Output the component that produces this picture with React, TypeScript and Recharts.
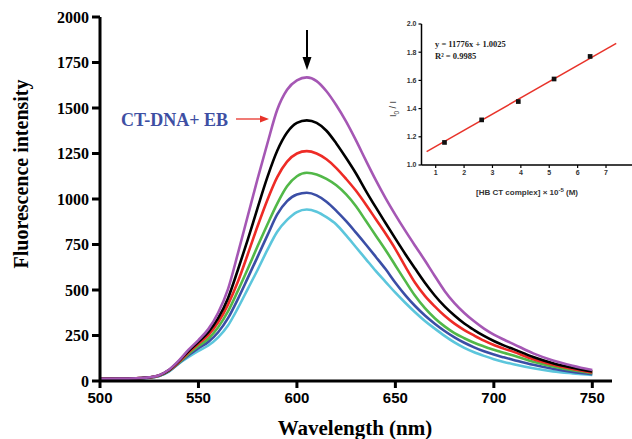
import {
  LineChart,
  ComposedChart,
  Line,
  Scatter,
  XAxis,
  YAxis,
  ZAxis,
} from 'recharts';

const wavelengths = [
  500, 510, 520, 525, 530, 535, 540, 545, 550, 555, 560, 565, 570, 575, 580, 585, 590, 595, 600,
  605, 610, 615, 620, 625, 630, 635, 640, 645, 650, 655, 660, 665, 670, 675, 680, 685, 690, 695,
  700, 705, 710, 720, 730, 740, 750,
];

// CT-DNA + EB (no complex)
const purple = [
  12, 13, 16, 20, 32, 62, 112, 172, 225, 285, 375, 505, 700, 905, 1110, 1305, 1490, 1600, 1652,
  1668, 1648, 1592, 1515, 1425, 1322, 1212, 1105, 1005, 913, 826, 743, 662, 577, 495, 428, 374, 328,
  288, 255, 228, 203, 152, 113, 84, 60,
];
const black = [
  12, 13, 16, 20, 31, 60, 108, 165, 215, 268, 345, 455, 610, 775, 950, 1120, 1265, 1365, 1418,
  1432, 1418, 1375, 1305, 1225, 1140, 1045, 955, 868, 782, 698, 618, 540, 470, 410, 360, 316, 280,
  248, 220, 196, 175, 132, 98, 73, 52,
];
const red = [
  12, 13, 16, 19, 30, 58, 104, 158, 205, 252, 322, 420, 545, 695, 850, 995, 1120, 1205, 1250,
  1263, 1250, 1218, 1170, 1110, 1045, 970, 890, 810, 725, 630, 540, 468, 410, 358, 315, 280, 250,
  222, 198, 178, 160, 120, 90, 66, 47,
];
const green = [
  11, 12, 15, 19, 29, 56, 100, 150, 192, 232, 295, 382, 495, 615, 740, 860, 975, 1070, 1125,
  1144, 1135, 1110, 1075, 1025, 960, 880, 800, 720, 635, 550, 468, 400, 345, 300, 263, 235, 210,
  190, 172, 155, 140, 106, 80, 59, 43,
];
const blue = [
  11, 12, 15, 18, 28, 54, 98, 142, 180, 215, 268, 345, 450, 565, 682, 800, 915, 988, 1025,
  1034, 1020, 985, 935, 878, 815, 750, 683, 615, 540, 472, 412, 360, 315, 275, 240, 210, 185,
  163, 145, 130, 116, 89, 67, 50, 38,
];
const cyan = [
  10, 11, 14, 18, 27, 52, 95, 132, 165, 195, 240, 305, 400, 505, 610, 720, 820, 885, 928,
  942, 930, 900, 860, 800, 735, 670, 605, 545, 485, 430, 378, 330, 288, 248, 212, 182, 158,
  138, 120, 105, 92, 70, 53, 42, 33,
];

const xTicks = [500, 550, 600, 650, 700, 750];
const yTicks = [0, 250, 500, 750, 1000, 1250, 1500, 1750, 2000];

// inset: Stern-Volmer plot
const complexConc = [1.31, 2.62, 3.91, 5.17, 6.44];
const ratioI0I = [1.16, 1.32, 1.45, 1.61, 1.77];
const fitX = [0.68, 7.36];
const fitY = [1.095, 1.862];
const insetXTicks = [1, 2, 3, 4, 5, 6, 7];
const insetYTicks = [1.0, 1.2, 1.4, 1.6, 1.8, 2.0];

const spectra = wavelengths.map((wl, i) => ({
  wl,
  purple: purple[i],
  black: black[i],
  red: red[i],
  green: green[i],
  blue: blue[i],
  cyan: cyan[i],
}));
const svPoints = complexConc.map((x, i) => ({ x, y: ratioI0I[i] }));
const svFit = fitX.map((x, i) => ({ x, y: fitY[i] }));

const SERIF = '"Liberation Serif", "Times New Roman", serif';
const SANS = '"Liberation Sans", Arial, sans-serif';

const series = [
  { key: 'cyan', color: '#5cc6dc' },
  { key: 'blue', color: '#3b4ea6' },
  { key: 'green', color: '#52b848' },
  { key: 'red', color: '#ee2b26' },
  { key: 'black', color: '#000000' },
  { key: 'purple', color: '#a557b4' },
];

export default function App() {
  return (
    <div
      style={{
        position: 'fixed',
        left: 0,
        top: 0,
        width: 632,
        height: 439,
        overflow: 'hidden',
        background: '#ffffff',
      }}
    >
      <LineChart width={632} height={439} data={spectra} margin={{ top: 17, right: 20, left: 0, bottom: 0 }}>
        <XAxis
          dataKey="wl"
          type="number"
          domain={[500, 760]}
          ticks={xTicks}
          height={58}
          axisLine={{ stroke: '#000', strokeWidth: 3 }}
          tickLine={{ stroke: '#000', strokeWidth: 3 }}
          tickSize={7}
          tickMargin={4}
          tick={{ fill: '#000', fontFamily: SANS, fontWeight: 700, fontSize: 15 }}
        />
        <YAxis
          type="number"
          domain={[0, 2000]}
          ticks={yTicks}
          width={100}
          axisLine={{ stroke: '#000', strokeWidth: 3 }}
          tickLine={{ stroke: '#000', strokeWidth: 3 }}
          tickSize={8}
          tickMargin={3}
          tick={{ fill: '#000', fontFamily: SERIF, fontWeight: 700, fontSize: 16 }}
        />
        {series.map((s) => (
          <Line
            key={s.key}
            type="monotone"
            dataKey={s.key}
            stroke={s.color}
            strokeWidth={2.6}
            dot={false}
            isAnimationActive={false}
          />
        ))}
      </LineChart>

      <svg
        width={632}
        height={439}
        style={{ position: 'absolute', left: 0, top: 0, pointerEvents: 'none' }}
      >
        <text
          transform="translate(28,174) rotate(-90)"
          textAnchor="middle"
          fontFamily={SERIF}
          fontWeight={700}
          fontSize={20}
          fill="#000"
        >
          Fluorescence intensity
        </text>
        <text x={355} y={435} textAnchor="middle" fontFamily={SERIF} fontWeight={700} fontSize={21} fill="#000">
          Wavelength (nm)
        </text>
        <text x={121} y={126} fontFamily={SERIF} fontWeight={700} fontSize={18} fill="#3e4fa3">
          CT-DNA+ EB
        </text>
        <line x1={236} y1={119} x2={262} y2={119} stroke="#e8332a" strokeWidth={1.3} />
        <polygon points="269,119 260,115.5 260,122.5" fill="#e8332a" />
        <line x1={307} y1={30} x2={307} y2={60} stroke="#000" strokeWidth={2} />
        <polygon points="307,70 302.5,57 311.5,57" fill="#000" />

        <text x={435} y={47} fontFamily={SERIF} fontWeight={700} fontSize={8.5} fill="#222">
          y = 11776x + 1.0025
        </text>
        <text x={435} y={59} fontFamily={SERIF} fontWeight={700} fontSize={8.5} fill="#222">
          R² = 0.9985
        </text>
        <text
          transform="translate(396,109) rotate(-90)"
          textAnchor="middle"
          fontFamily={SANS}
          fontSize={9}
          fill="#333"
        >
          I<tspan fontSize={6.5} dy={3}>0</tspan>
          <tspan dy={-3}> / I</tspan>
        </text>
        <text x={527} y={195} textAnchor="middle" fontFamily={SANS} fontWeight={700} fontSize={8} fill="#333">
          [HB CT complex] × 10<tspan fontSize={6} dy={-3}>-5</tspan>
          <tspan dy={3}> (M)</tspan>
        </text>
      </svg>

      <div style={{ position: 'absolute', left: 380, top: 0 }}>
        <ComposedChart width={260} height={200} margin={{ top: 24, right: 5.6, left: 0, bottom: 0 }}>
          <XAxis
            dataKey="x"
            type="number"
            domain={[0.5, 8]}
            ticks={insetXTicks}
            height={35}
            axisLine={{ stroke: '#000', strokeWidth: 1.5 }}
            tickLine={{ stroke: '#000', strokeWidth: 1.2 }}
            tickSize={3}
            tickMargin={2}
            tick={{ fill: '#333', fontFamily: SANS, fontWeight: 700, fontSize: 7 }}
          />
          <YAxis
            dataKey="y"
            type="number"
            domain={[1, 2]}
            ticks={insetYTicks}
            width={41.5}
            axisLine={{ stroke: '#000', strokeWidth: 1.5 }}
            tickLine={{ stroke: '#000', strokeWidth: 1.2 }}
            tickSize={3}
            tickMargin={2}
            tickFormatter={(v: number) => v.toFixed(1)}
            tick={{ fill: '#333', fontFamily: SANS, fontWeight: 700, fontSize: 7 }}
          />
          <ZAxis range={[22, 22]} />
          <Line
            data={svFit}
            dataKey="y"
            type="linear"
            stroke="#e8332a"
            strokeWidth={1.5}
            dot={false}
            isAnimationActive={false}
          />
          <Scatter data={svPoints} dataKey="y" shape="square" fill="#111" isAnimationActive={false} />
        </ComposedChart>
      </div>
    </div>
  );
}
